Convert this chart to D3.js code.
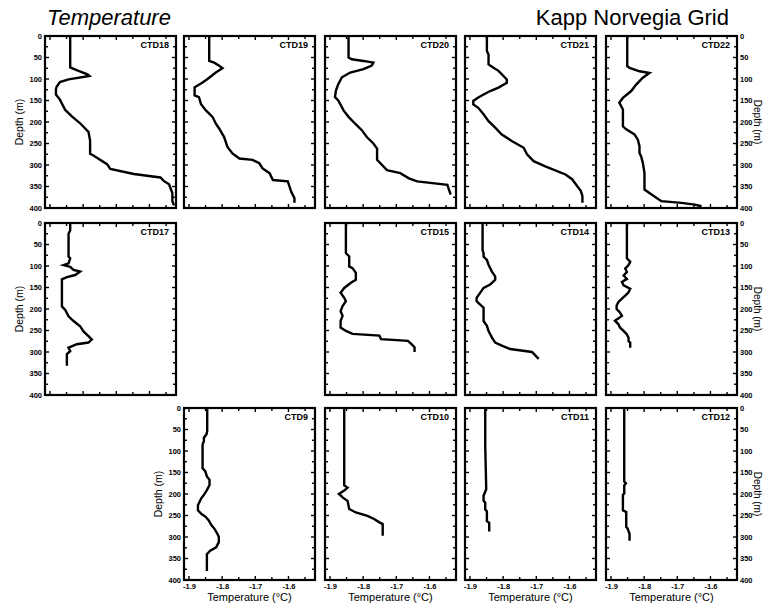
<!DOCTYPE html>
<html><head><meta charset="utf-8">
<script src="https://cdn.jsdelivr.net/npm/d3@7"></script>
<style>body{margin:0;background:#fff}svg{display:block}text{font-family:"Liberation Sans",Arial,sans-serif}</style>
</head><body>
<svg id="c" width="766" height="605"></svg>
<script>
// ---- data ----
const depthTicks = [0,50,100,150,200,250,300,350,400];
const depthMinor = [25,75,125,175,225,275,325,375];
const tempTicks = [-1.9,-1.8,-1.7,-1.6];
const tempMinor = [-1.85,-1.75,-1.65,-1.55];
const tempTickLabels = ["-1.9","-1.8","-1.7","-1.6"];

const ctd18Depth = [0,73,81,89,93,101,107,118,124,136,148,172,187,203,223,243,274,278,298,309,321,329,337,345,365,384,394];
const ctd18Temp  = [-1.839,-1.839,-1.814,-1.787,-1.781,-1.844,-1.870,-1.880,-1.882,-1.882,-1.870,-1.854,-1.834,-1.809,-1.784,-1.779,-1.779,-1.769,-1.728,-1.718,-1.647,-1.567,-1.557,-1.541,-1.531,-1.531,-1.526];
const ctd19Depth = [0,58,62,69,75,85,100,108,118,119,138,142,158,173,188,204,215,235,258,273,285,288,296,308,319,335,338,350,362,377,388];
const ctd19Temp  = [-1.839,-1.839,-1.824,-1.809,-1.799,-1.819,-1.844,-1.859,-1.880,-1.883,-1.883,-1.870,-1.864,-1.849,-1.829,-1.819,-1.809,-1.794,-1.784,-1.769,-1.748,-1.708,-1.688,-1.678,-1.657,-1.647,-1.602,-1.597,-1.592,-1.582,-1.582];
const ctd20Depth = [0,50,54,58,62,69,77,85,96,112,127,142,150,173,188,204,219,235,250,262,288,296,312,319,331,338,346,358,369];
const ctd20Temp  = [-1.844,-1.844,-1.834,-1.799,-1.769,-1.774,-1.799,-1.839,-1.864,-1.875,-1.882,-1.885,-1.875,-1.859,-1.844,-1.824,-1.804,-1.789,-1.769,-1.758,-1.758,-1.748,-1.728,-1.688,-1.662,-1.637,-1.546,-1.541,-1.536];
const ctd21Depth = [0,35,43,66,74,81,93,101,109,120,128,136,143,151,159,167,182,198,213,229,244,260,275,291,303,322,333,349,360,372,388];
const ctd21Temp  = [-1.849,-1.849,-1.844,-1.844,-1.829,-1.814,-1.799,-1.789,-1.789,-1.814,-1.839,-1.859,-1.875,-1.890,-1.890,-1.875,-1.859,-1.844,-1.824,-1.804,-1.774,-1.738,-1.728,-1.708,-1.673,-1.612,-1.592,-1.577,-1.566,-1.561,-1.561];
const ctd22Depth = [0,70,74,82,86,97,113,128,144,155,171,210,217,229,241,256,272,280,295,318,357,365,373,384,388,392,396];
const ctd22Temp  = [-1.851,-1.851,-1.844,-1.814,-1.784,-1.804,-1.824,-1.839,-1.864,-1.875,-1.864,-1.864,-1.854,-1.829,-1.819,-1.814,-1.814,-1.809,-1.804,-1.799,-1.799,-1.784,-1.769,-1.748,-1.688,-1.647,-1.627];
const ctd17Depth = [0,17,25,78,82,94,98,102,109,113,121,126,131,194,202,217,228,240,252,263,271,278,282,290,298,305,332];
const ctd17Temp  = [-1.839,-1.839,-1.844,-1.844,-1.839,-1.844,-1.859,-1.839,-1.829,-1.809,-1.824,-1.849,-1.864,-1.864,-1.854,-1.844,-1.829,-1.809,-1.799,-1.784,-1.774,-1.784,-1.819,-1.844,-1.839,-1.849,-1.849];
const ctd15Depth = [0,70,78,101,105,116,132,139,151,162,174,182,193,205,216,228,243,251,258,262,270,274,281,289,300];
const ctd15Temp  = [-1.852,-1.852,-1.842,-1.842,-1.832,-1.822,-1.822,-1.837,-1.857,-1.868,-1.857,-1.852,-1.862,-1.868,-1.862,-1.868,-1.868,-1.852,-1.832,-1.751,-1.746,-1.665,-1.655,-1.645,-1.645];
const ctd14Depth = [0,63,70,78,86,97,113,124,132,143,151,163,174,182,189,197,228,239,251,266,278,285,293,300,308,316];
const ctd14Temp  = [-1.862,-1.862,-1.859,-1.859,-1.849,-1.844,-1.834,-1.824,-1.824,-1.839,-1.859,-1.870,-1.880,-1.880,-1.870,-1.859,-1.859,-1.849,-1.844,-1.834,-1.824,-1.804,-1.779,-1.713,-1.703,-1.693];
const ctd13Depth = [0,82,90,98,106,114,122,130,137,145,153,161,169,176,184,192,200,208,216,222,227,235,243,251,259,267,275,278,290];
const ctd13Temp  = [-1.852,-1.852,-1.842,-1.847,-1.857,-1.852,-1.862,-1.852,-1.867,-1.862,-1.842,-1.847,-1.857,-1.867,-1.878,-1.883,-1.883,-1.873,-1.867,-1.878,-1.888,-1.878,-1.873,-1.862,-1.852,-1.847,-1.847,-1.842,-1.842];
const ctd9Depth  = [0,53,61,69,77,85,140,147,159,167,179,191,202,210,218,226,238,246,253,261,273,281,293,300,312,324,332,340,379];
const ctd9Temp   = [-1.845,-1.845,-1.847,-1.855,-1.855,-1.859,-1.859,-1.851,-1.846,-1.838,-1.838,-1.846,-1.855,-1.863,-1.868,-1.873,-1.873,-1.863,-1.850,-1.841,-1.832,-1.823,-1.814,-1.810,-1.810,-1.818,-1.836,-1.846,-1.846];
const ctd10Depth = [0,180,185,192,200,204,208,216,235,243,251,258,266,270,297];
const ctd10Temp  = [-1.857,-1.857,-1.847,-1.857,-1.873,-1.867,-1.862,-1.847,-1.842,-1.822,-1.787,-1.767,-1.751,-1.741,-1.741];
const ctd11Depth = [0,87,189,204,216,220,236,240,263,267,287];
const ctd11Temp  = [-1.854,-1.854,-1.851,-1.859,-1.859,-1.854,-1.854,-1.849,-1.849,-1.842,-1.842];
const ctd12Depth = [0,171,175,180,199,202,238,242,277,280,293,309];
const ctd12Temp  = [-1.860,-1.860,-1.855,-1.860,-1.860,-1.864,-1.864,-1.854,-1.854,-1.850,-1.844,-1.844];

// ---- layout ----
const colX = [45,184,325,465,606];
const rowY = [36,223,408];
const PW = 131, PH = 172;
const panels = [
  {name:"CTD18", r:0, c:0, d:ctd18Depth, t:ctd18Temp},
  {name:"CTD19", r:0, c:1, d:ctd19Depth, t:ctd19Temp},
  {name:"CTD20", r:0, c:2, d:ctd20Depth, t:ctd20Temp},
  {name:"CTD21", r:0, c:3, d:ctd21Depth, t:ctd21Temp},
  {name:"CTD22", r:0, c:4, d:ctd22Depth, t:ctd22Temp},
  {name:"CTD17", r:1, c:0, d:ctd17Depth, t:ctd17Temp},
  {name:"CTD15", r:1, c:2, d:ctd15Depth, t:ctd15Temp},
  {name:"CTD14", r:1, c:3, d:ctd14Depth, t:ctd14Temp},
  {name:"CTD13", r:1, c:4, d:ctd13Depth, t:ctd13Temp},
  {name:"CTD9",  r:2, c:1, d:ctd9Depth,  t:ctd9Temp},
  {name:"CTD10", r:2, c:2, d:ctd10Depth, t:ctd10Temp},
  {name:"CTD11", r:2, c:3, d:ctd11Depth, t:ctd11Temp},
  {name:"CTD12", r:2, c:4, d:ctd12Depth, t:ctd12Temp}
];
const leftLabelled = {"CTD18":1,"CTD17":1,"CTD9":1};

const svg = d3.select("#c");
svg.append("rect").attr("width",766).attr("height",605).attr("fill","#fff");

const x = d3.scaleLinear().domain([-1.915,-1.52]).range([0,PW]);
const y = d3.scaleLinear().domain([0,400]).range([0,PH]);

svg.append("text").attr("x",47).attr("y",25).attr("font-size",22).attr("font-style","italic").text("Temperature");
svg.append("text").attr("x",729).attr("y",25).attr("font-size",22).attr("text-anchor","end").text("Kapp Norvegia Grid");

function styleTicks(a){
  a.select(".domain").remove();
  a.selectAll("text").attr("font-size",7.5).attr("font-weight","bold").attr("font-family","Liberation Sans, Arial, sans-serif");
}

panels.forEach(p => {
  const g = svg.append("g").attr("transform",`translate(${colX[p.c]},${rowY[p.r]})`);
  const tk = g.append("g").attr("stroke","#000").attr("stroke-width",1.4);
  depthTicks.concat(depthMinor).forEach(v => {
    const len = depthTicks.includes(v) ? 4 : 3;
    tk.append("line").attr("x1",0).attr("x2",len).attr("y1",y(v)).attr("y2",y(v));
    tk.append("line").attr("x1",PW).attr("x2",PW-len).attr("y1",y(v)).attr("y2",y(v));
  });
  tempTicks.concat(tempMinor).forEach(v => {
    const len = tempTicks.includes(v) ? 4 : 3;
    tk.append("line").attr("x1",x(v)).attr("x2",x(v)).attr("y1",0).attr("y2",len);
    tk.append("line").attr("x1",x(v)).attr("x2",x(v)).attr("y1",PH).attr("y2",PH-len);
  });
  g.append("rect").attr("width",PW).attr("height",PH).attr("fill","none").attr("stroke","#000").attr("stroke-width",2.2);
  const pts = p.d.map((d,i)=>[p.t[i], d]);
  g.append("path").datum(pts)
    .attr("d", d3.line().x(v=>x(v[0])).y(v=>y(v[1])))
    .attr("fill","none").attr("stroke","#000").attr("stroke-width",2.4).attr("stroke-linejoin","miter");
  g.append("text").attr("x",PW-7).attr("y",12).attr("text-anchor","end").attr("font-size",9).attr("font-weight","bold").text(p.name);

  if (leftLabelled[p.name]) {
    const a = g.append("g").call(d3.axisLeft(y).tickValues(depthTicks).tickSize(0).tickPadding(3));
    styleTicks(a);
    g.append("text").attr("transform",`translate(-22,${PH/2}) rotate(-90)`).attr("text-anchor","middle").attr("font-size",10.5).text("Depth (m)");
  }
  if (p.c === 4) {
    const a = g.append("g").attr("transform",`translate(${PW},0)`).call(d3.axisRight(y).tickValues(depthTicks).tickSize(0).tickPadding(3));
    styleTicks(a);
    g.append("text").attr("transform",`translate(${PW+17},${PH/2}) rotate(90)`).attr("text-anchor","middle").attr("font-size",10).text("Depth (m)");
  }
  if (p.r === 2) {
    const a = g.append("g").attr("transform",`translate(0,${PH})`).call(d3.axisBottom(x).tickValues(tempTicks).tickFormat((d,i)=>tempTickLabels[i]).tickSize(0).tickPadding(4));
    styleTicks(a);
    g.append("text").attr("x",PW/2).attr("y",PH+21).attr("text-anchor","middle").attr("font-size",11).text("Temperature (°C)");
  }
});
</script>
</body></html>
